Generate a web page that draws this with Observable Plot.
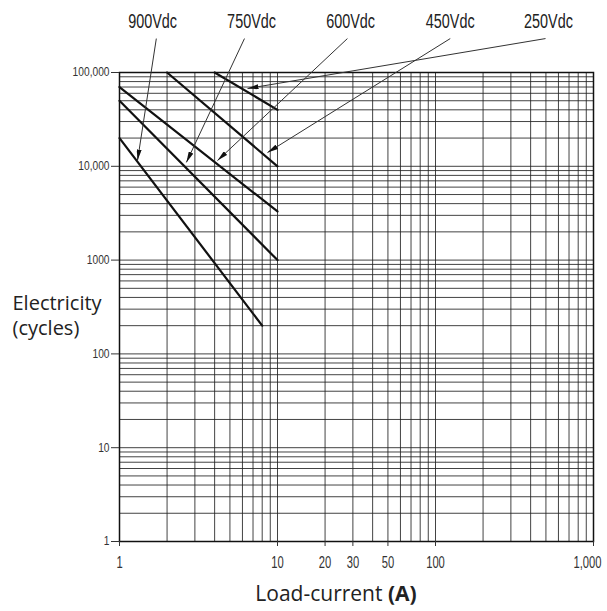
<!DOCTYPE html>
<html>
<head>
<meta charset="utf-8">
<script src="https://cdn.jsdelivr.net/npm/d3@7"></script>
<script src="https://cdn.jsdelivr.net/npm/@observablehq/plot@0.6"></script>
<style>
  body { margin: 0; background: #fff; }
  #wrap { position: relative; width: 607px; height: 611px; }
  #xlabel { position: absolute; left: 0; width: 672px; top: 583px; text-align: center; line-height: 21px;
            font-family: "Open Sans", "Noto Sans", sans-serif; font-size: 21px; color: #222; }
</style>
</head>
<body>
<div id="wrap">
  <div id="chart"></div>
  <div id="xlabel">Load-current <b>(A)</b></div>
</div>
<script>
// Series: endpoints of each voltage life line (current in A, cycles)
const seriesNames   = ["900Vdc", "750Vdc", "600Vdc", "450Vdc", "250Vdc"];
const startCurrent  = [1, 1, 1, 2, 4];
const startCycles   = [20000, 50000, 70000, 100000, 100000];
const endCurrent    = [8, 10, 10, 10, 10];
const endCycles     = [200, 1000, 3300, 10000, 40000];

// Annotation anchors (data units)
const labelCurrent  = [1.62, 6.85, 29, 124, 519];
const labelCycles   = 345000;
const arrowFromX    = [1.71, 6.18, 27.7, 124, 497];
const arrowFromY    = 230000;
const arrowToX      = [1.30, 2.65, 4.17, 8.64, 6.46];
const arrowToY      = [11500, 11000, 11500, 14000, 67500];

// Ticks and grid
const xTicks      = [1, 10, 20, 30, 50, 100, 1000];
const xTickLabels = ["1", "10", "20", "30", "50", "100", "1,000"];
const yTicks      = [1, 10, 100, 1000, 10000, 100000];
const yTickLabels = ["1", "10", "100", "1000", "10,000", "100,000"];
const xGrid = [2,3,4,5,6,7,8,9,10,20,30,40,50,60,70,80,90,100,200,300,400,500,600,700,800,900];
const yGrid = [2,3,4,5,6,7,8,9,10,20,30,40,50,60,70,80,90,100,200,300,400,500,600,700,800,900,
               1000,2000,3000,4000,5000,6000,7000,8000,9000,10000,20000,30000,40000,50000,60000,70000,80000,90000];

const lineData = [];
seriesNames.forEach((s, i) => {
  lineData.push({series: s, current: startCurrent[i], cycles: startCycles[i]});
  lineData.push({series: s, current: endCurrent[i], cycles: endCycles[i]});
});
const annot = seriesNames.map((s, i) => ({
  name: s, lx: labelCurrent[i], ly: labelCycles,
  x1: arrowFromX[i], y1: arrowFromY, x2: arrowToX[i], y2: arrowToY[i]
}));
const xTickData = xTicks.map((v, i) => ({v, label: xTickLabels[i]}));
const xTickInner = xTickData.slice(0, -1);
const xTickLast = xTickData.slice(-1);

const sans = '"Liberation Sans", Arial, sans-serif';
const human = '"Open Sans", "Noto Sans", sans-serif';

const chart = Plot.plot({
  width: 607,
  height: 578,
  marginLeft: 119,
  marginRight: 14,
  marginTop: 72,
  marginBottom: 37,
  style: {fontFamily: sans, fontSize: "12px", color: "#333", background: "#fff"},
  x: {type: "log", domain: [1, 1000]},
  y: {type: "log", domain: [1, 100000]},
  marks: [
    Plot.ruleX(xGrid, {stroke: "#222", strokeWidth: 1, strokeOpacity: 0.85}),
    Plot.ruleY(yGrid, {stroke: "#222", strokeWidth: 1, strokeOpacity: 0.85}),
    Plot.frame({stroke: "#111", strokeWidth: 1.5}),
    Plot.axisY({ticks: yTicks, tickSize: 8, tickPadding: 2, label: null, className: "ylab",
                tickFormat: d => yTickLabels[yTicks.findIndex(v => Math.abs(v - d) < 1e-6 * v)] ?? ""}),
    Plot.axisX({ticks: xTicks, tickSize: 5, label: null, text: null}),
    Plot.text(xTickInner, {x: "v", frameAnchor: "bottom", text: "label", dy: 26, fontSize: 16,
                           fill: "#333", className: "xlab"}),
    Plot.text(xTickLast, {x: "v", frameAnchor: "bottom", text: "label", dy: 26, dx: 8, textAnchor: "end",
                          fontSize: 16, fill: "#333", className: "xlab"}),
    Plot.line(lineData, {x: "current", y: "cycles", z: "series", stroke: "#111", strokeWidth: 2.2}),
    Plot.link(annot, {x1: "x1", y1: "y1", x2: "x2", y2: "y2", stroke: "#333", strokeWidth: 1, className: "ann-arrows"}),
    Plot.text(annot, {x: "lx", y: "ly", text: "name", fontSize: 20, fill: "#222", className: "vlab"}),
    Plot.text(["Electricity\n(cycles)"], {frameAnchor: "left", text: d => d, dx: -107, dy: 7,
      textAnchor: "start", fontSize: 20, lineHeight: 1.25, fill: "#222", fontFamily: human})
  ]
});

// Filled arrowheads
const ns = "http://www.w3.org/2000/svg";
const defs = document.createElementNS(ns, "defs");
const marker = document.createElementNS(ns, "marker");
marker.setAttribute("id", "ahead");
marker.setAttribute("viewBox", "0 0 11 5");
marker.setAttribute("refX", "11");
marker.setAttribute("refY", "2.5");
marker.setAttribute("markerWidth", "11");
marker.setAttribute("markerHeight", "5");
marker.setAttribute("markerUnits", "userSpaceOnUse");
marker.setAttribute("orient", "auto");
const mp = document.createElementNS(ns, "path");
mp.setAttribute("d", "M0,0L11,2.5L0,5Z");
mp.setAttribute("fill", "#111");
marker.appendChild(mp);
defs.appendChild(marker);
chart.insertBefore(defs, chart.firstChild);
chart.querySelectorAll(".ann-arrows path").forEach(p => p.setAttribute("marker-end", "url(#ahead)"));

document.getElementById("chart").appendChild(chart);

// Condense the narrow-font texts (reference uses a condensed face)
function condense(selector, ratio) {
  chart.querySelectorAll(selector).forEach(t => {
    const len = t.getComputedTextLength();
    if (len > 0) {
      t.setAttribute("textLength", (len * ratio).toFixed(2));
      t.setAttribute("lengthAdjust", "spacingAndGlyphs");
    }
  });
}
condense(".vlab text", 0.72);
condense(".xlab text", 0.70);
condense(".ylab text", 0.85);
</script>
</body>
</html>
